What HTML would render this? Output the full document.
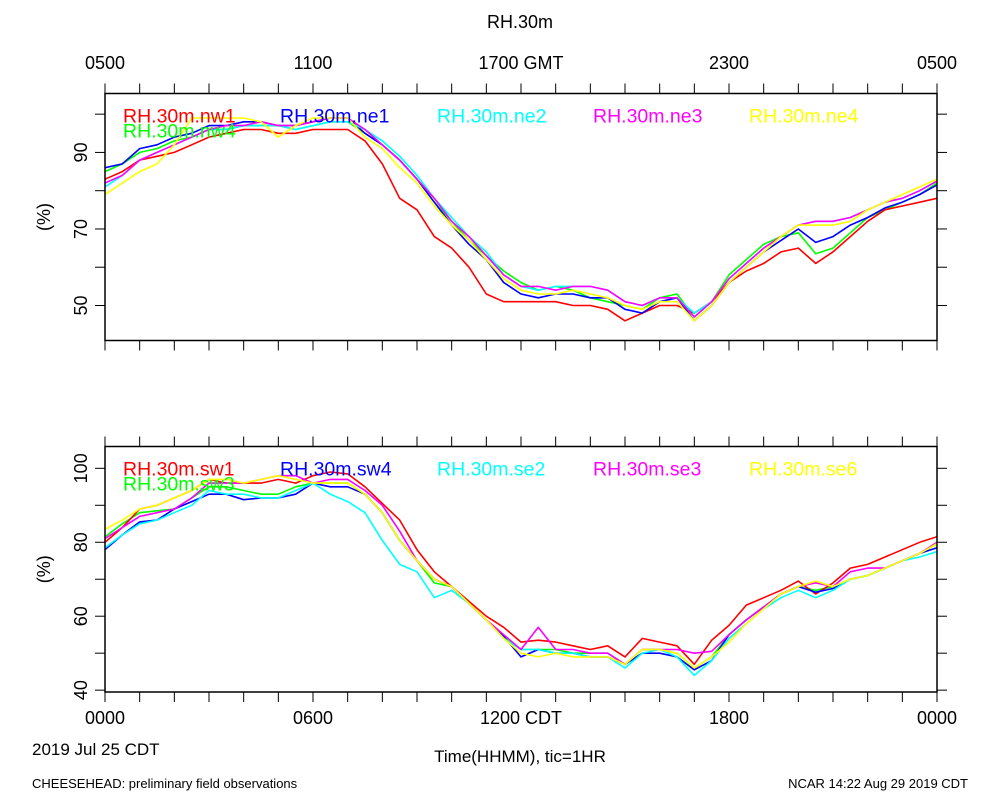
<!DOCTYPE html>
<html><head><meta charset="utf-8">
<style>
html,body{margin:0;padding:0;background:#fff;}
svg{display:block;font-family:"Liberation Sans",sans-serif;}
</style></head>
<body>
<svg id="chart" width="1000" height="800" viewBox="0 0 1000 800">
<text x="520" y="28" font-size="18" text-anchor="middle">RH.30m</text>
<g id="topAxisLabels" font-size="18" text-anchor="middle"></g>
<g id="bottomAxisLabels" font-size="18" text-anchor="middle"></g>
<text x="32" y="755" font-size="17">2019 Jul 25 CDT</text>
<text x="520" y="762" font-size="17" text-anchor="middle">Time(HHMM), tic=1HR</text>
<text x="32" y="788" font-size="13">CHEESEHEAD: preliminary field observations</text>
<text x="968" y="788" font-size="13" text-anchor="end">NCAR 14:22 Aug 29 2019 CDT</text>
</svg>
<script>
const hours = [0,0.5,1,1.5,2,2.5,3,3.5,4,4.5,5,5.5,6,6.5,7,7.5,8,8.5,9,9.5,10,10.5,11,11.5,12,12.5,13,13.5,14,14.5,15,15.5,16,16.5,17,17.5,18,18.5,19,19.5,20,20.5,21,21.5,22,22.5,23,23.5,24];
const gmtTickLabels = ["0500","1100","1700 GMT","2300","0500"];
const cdtTickLabels = ["0000","0600","1200 CDT","1800","0000"];
const topYTicks = [50,70,90];
const botYTicks = [40,60,80,100];
const topNames = ["RH.30m.nw1","RH.30m.ne1","RH.30m.ne2","RH.30m.ne3","RH.30m.ne4","RH.30m.nw4"];
const botNames = ["RH.30m.sw1","RH.30m.sw4","RH.30m.se2","RH.30m.se3","RH.30m.se6","RH.30m.sw3"];
const colors = ["#ff0000","#0000ff","#00ffff","#ff00ff","#ffff00","#00ff00"];
// top panel series (one value per half hour)
const nw1 = [83,85,88,89,90,92,94,95,96,96, 95,95,96,96,96,93,87,78,75,68, 65,60,53,51,51,51,51,50,50,49, 46,48,50,50,48,51,56,59,61,64, 65,61,64,68,72,75,76,77,78];
const ne1 = [86,87,91,92,94,95,97,97,98,98, 97,97,98,99,99,95,92,88,83,77, 71,66,62,56,53,52,53,53,52,52, 49,48,51,52,46,50,56,60,64,67, 70,66.5,68,71,73,75.5,77,79,81.5];
const ne2 = [81,84,88,90,92,94,96,96,97,97, 97,96,97,98,98,96,93,89,84,78, 73,68,64,58,55,54,55,55,55,54, 51,50,52,52,48,51,57,61,65,68, 71,72,72,73,75,77,78,80,82.5];
const ne3 = [82,84,88,90,92,94,96,97,97,98, 97,97,98,99,99,96,92,88,83,78, 72,68,63,58,55,55,54,55,55,54, 51,50,52,52,47,51,57,61,65,68, 71,72,72,73,75,77,78,80,82.5];
const ne4 = [79,82,85,87,92,99,99,99,99,98, 94,97,99,99,99,94,91,86,82,76, 71,67,62,57,54,53,53,54,53,52, 50,49,51,51,46,50,56,60,64,68, 71,71,71,72,75,77,79,81,83];
const nw4 = [85,87,90,91,93,94,96,96,97,97, 97,96,97,98,98,95,92,88,83,77, 72,67,63,59,56,54,55,54,52,51, 50,49,52,53,47,51,58,62,66,68, 69,63.5,65,69,73,75,77,79,82];
// bottom panel series
const sw1 = [80,84,89,90,92,94,97,96,96,96, 97,96,98,99,98.5,95,90.5,86,78,72, 68,64,60,57,53,53.5,53,52,51,52, 49,54,53,52,47,53.5,57.5,63,65,67, 69.5,66,69,73,74,76,78,80,81.5];
const sw4 = [78,82,85.5,86,89,91,93,93,91.5,92, 92,93,96,95,95,93,88,80.5,75,70, 68,63.5,59,54.5,49,51,50,50,49,49, 47,50,50,49,45.5,48,55,59,62.5,66, 68,66.5,67.5,70,71,73,75,77,78.5];
const se2 = [78.5,82,85,86,88,90,94,93,93,92, 92,94,96,93,91,88,80.5,74,72,65, 67,63.5,59,54,51,51,50,50,49,49, 46,50,51,49,44,48,54,58,62,65, 67,65,67,70,71,73,75,76,77.5];
const se3 = [81,84,87,88,89,92,96,96,96,97, 98,98,96,97,97,94,90,83,75,70, 68,63.5,59,55,51,57,51,51,50,50, 47,51,51,51,50,50.5,55,59,62.5,66, 68,69,68,72,73,73,75,77,80];
const se6 = [83.5,86,89,90,92,94,97,97,96,97, 98,97,96,96,96,93,88,80.5,75,70, 68,63.5,59,54,50,49,50,49,49,49, 47,51,51,50,46,49,53,58,62,66, 68,69.5,68,70,71,73,75,77,79.6];
const sw3 = [81.5,85,88,88.5,89,92,95,95,94,93, 93,95,96,96,96,93,88,80.5,75,69, 68,63.5,59,54.5,51,51,51,50,50,50, 47,51,51,50,46,49,55,59,62.5,66, 68,67,68,70,71,73,75,77,79.5];

const NS = "http://www.w3.org/2000/svg";
const svg = document.getElementById('chart');
const X0 = 105, X1 = 937;
function xScale(h){ return X0 + (X1 - X0) * h / 24; }
function mk(tag, attrs, parent){ const e = document.createElementNS(NS, tag); for (const k in attrs) e.setAttribute(k, attrs[k]); (parent||svg).appendChild(e); return e; }

function panel(cfg){
  const g = mk('g', {});
  
  
  const yScale = v => cfg.yTop + (cfg.vMax - v) * (cfg.yBot - cfg.yTop) / (cfg.vMax - cfg.vMin);
  const tk = mk('g', {stroke:'#000','stroke-width':1}, g);
  
  
  for (let h = 0; h <= 24; h++){
    const x = xScale(h);
    mk('line', {x1:x, x2:x, y1:cfg.yTop-10, y2:cfg.yTop}, tk);
    mk('line', {x1:x, x2:x, y1:cfg.yBot, y2:cfg.yBot+10}, tk);
  }
  const minorStep = cfg.tickStep / 2;
  for (let v = Math.ceil(cfg.vMin / minorStep) * minorStep; v <= cfg.vMax; v += minorStep){
    const y = yScale(v);
    mk('line', {x1:X0-10, x2:X0, y1:y, y2:y}, tk);
    mk('line', {x1:X1, x2:X1+10, y1:y, y2:y}, tk);
  }
  cfg.yTicks.forEach(v => {
    const t = mk('text', {x:0, y:0, 'font-size':18, 'text-anchor':'middle', transform:`translate(${X0-18},${yScale(v)}) rotate(-90)`}, g);
    
    
    t.textContent = v;
  });
  const yt = mk('text', {x:0, y:0, 'font-size':18, 'text-anchor':'middle', transform:`translate(50,${(cfg.yTop+cfg.yBot)/2}) rotate(-90)`}, g);
  
  
  yt.textContent = '(%)';
  const clipId = cfg.name + '-clip';
  const cp = mk('clipPath', {id:clipId}, g);
  mk('rect', {x:X0, y:cfg.yTop, width:X1-X0, height:cfg.yBot-cfg.yTop}, cp);
  const sg = mk('g', {'clip-path':`url(#${clipId})`}, g);
  const order = [5,0,1,2,3,4];
  order.forEach(i => {
    const data = cfg.series[i];
    const pts = data.map((v, j) => xScale(hours[j]).toFixed(1) + ',' + yScale(v).toFixed(1)).join(' ');
    const pl = mk('polyline', {points:pts, fill:'none', stroke:colors[i], 'stroke-width':1.6, 'stroke-linejoin':'round'}, sg);
    
    
  });
  const fr = mk('rect', {x:X0, y:cfg.yTop, width:X1-X0, height:cfg.yBot-cfg.yTop, fill:'none', stroke:'#000', 'stroke-width':1.5}, g);
  
  
  const lx = [123,280,437,593,749,123];
  cfg.names.forEach((nm, i) => {
    const t = mk('text', {x:lx[i], y: cfg.yTop + (i === 5 ? 44 : 29), 'font-size':19.5, fill:colors[i]}, g);
    
    
    t.textContent = nm;
  });
}

panel({name:'top-panel', yTop:93.5, yBot:340.5, vMin:40.85, vMax:105.4, tickStep:20, yTicks:topYTicks, names:topNames, series:[nw1,ne1,ne2,ne3,ne4,nw4]});
panel({name:'bottom-panel', yTop:446.5, yBot:692, vMin:39.5, vMax:105.9, tickStep:20, yTicks:botYTicks, names:botNames, series:[sw1,sw4,se2,se3,se6,sw3]});

const ta = document.getElementById('topAxisLabels');
gmtTickLabels.forEach((s, i) => {
  const t = mk('text', {x:xScale(i*6), y:69}, ta);
  
  
  t.textContent = s;
});
const ba = document.getElementById('bottomAxisLabels');
cdtTickLabels.forEach((s, i) => {
  const t = mk('text', {x:xScale(i*6), y:724}, ba);
  
  
  t.textContent = s;
});
</script>
</body></html>
